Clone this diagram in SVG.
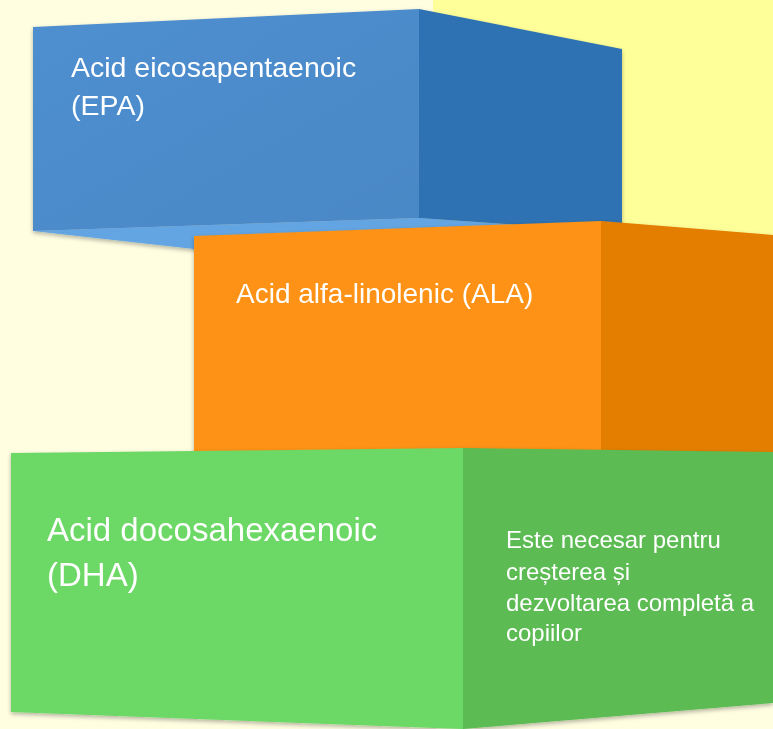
<svg xmlns="http://www.w3.org/2000/svg" width="773" height="729" viewBox="0 0 773 729">
  <defs>
    <filter id="shadow" x="-5%" y="-5%" width="110%" height="115%">
      <feDropShadow dx="0" dy="2" stdDeviation="2" flood-color="#000000" flood-opacity="0.3"/>
    </filter>
    <linearGradient id="blueFront" x1="0" y1="0" x2="1" y2="1">
      <stop offset="0" stop-color="#4F8FD0"/>
      <stop offset="1" stop-color="#4A88C6"/>
    </linearGradient>
  </defs>
  <style>
    .lbl { font-family: "Liberation Sans", Arial, sans-serif; fill: #FFFFFF; }
    .blue-front { fill: url(#blueFront); }
    .blue-side { fill: #2F72B3; }
    .blue-bottom { fill: #64A5E2; }
    .orange-front { fill: #FD9213; }
    .orange-side { fill: #E47E00; }
    .green-front { fill: #6CD866; }
    .green-side { fill: #5BBB52; }
  </style>

  <rect x="0" y="0" width="773" height="729" fill="#FFFEE1"/>
  <rect x="433" y="0" width="340" height="460" fill="#FFFF99"/>

  <g id="node-epa" filter="url(#shadow)">
    <polygon class="blue-bottom" points="33,231 419,218 622,232 622,262 194,249"/>
    <polygon class="blue-side" points="419,9 622,49 622,232 419,218"/>
    <polygon class="blue-front" points="33,27 419,9 419,218 33,231"/>
    <text class="lbl" x="71" y="77" font-size="28.5">Acid eicosapentaenoic</text>
    <text class="lbl" x="71" y="115" font-size="28.5">(EPA)</text>
  </g>

  <g id="node-ala" filter="url(#shadow)">
    <polygon class="orange-side" points="601,221 773,235 773,462 601,452"/>
    <polygon class="orange-front" points="194,236 601,221 601,452 194,454"/>
    <text class="lbl" x="236" y="303" font-size="28">Acid alfa-linolenic (ALA)</text>
  </g>

  <g id="node-dha" filter="url(#shadow)">
    <polygon class="green-side" points="463,448 773,452 773,703 463,729"/>
    <polygon class="green-front" points="11,453 463,448 463,729 11,712"/>
    <text class="lbl" x="47" y="541" font-size="33">Acid docosahexaenoic</text>
    <text class="lbl" x="47" y="586" font-size="33">(DHA)</text>
    <text class="lbl" x="506" y="548" font-size="24">Este necesar pentru</text>
    <text class="lbl" x="506" y="580" font-size="24">creșterea și</text>
    <text class="lbl" x="506" y="611" font-size="24">dezvoltarea completă a</text>
    <text class="lbl" x="506" y="641" font-size="24">copiilor</text>
  </g>

  <g id="connectors"/>
</svg>
